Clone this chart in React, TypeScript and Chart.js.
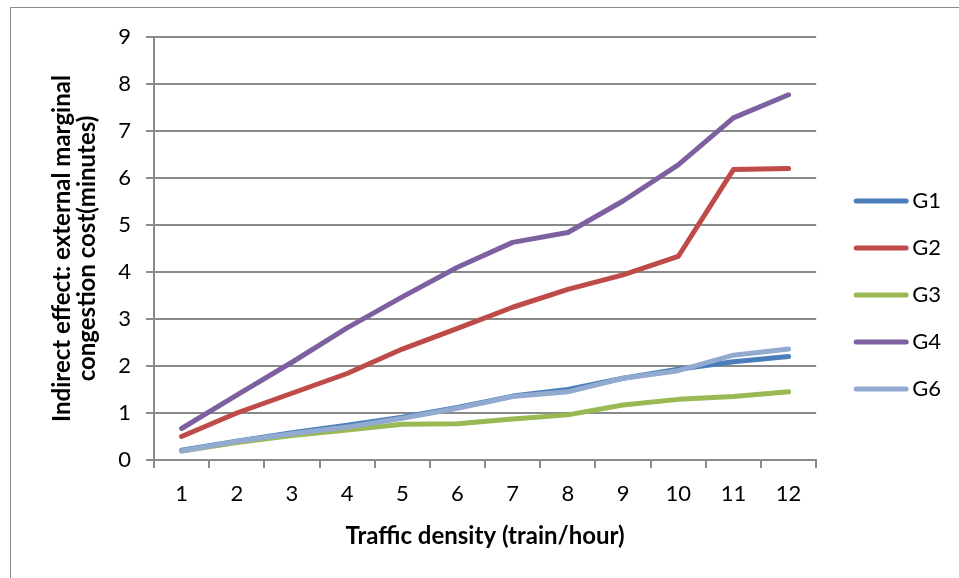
import React, { useEffect, useRef } from "react";
import { Chart, registerables } from "chart.js";

Chart.register(...registerables);

const categories = ["1", "2", "3", "4", "5", "6", "7", "8", "9", "10", "11", "12"];
const seriesNames = ["G1", "G2", "G3", "G4", "G6"];
const g1 = [0.21, 0.4, 0.58, 0.74, 0.91, 1.12, 1.36, 1.5, 1.74, 1.93, 2.09, 2.2];
const g2 = [0.5, 1.0, 1.42, 1.84, 2.36, 2.8, 3.25, 3.63, 3.94, 4.33, 6.18, 6.2];
const g3 = [0.19, 0.37, 0.52, 0.64, 0.76, 0.77, 0.87, 0.96, 1.17, 1.29, 1.35, 1.45];
const g4 = [0.67, 1.38, 2.08, 2.81, 3.47, 4.1, 4.63, 4.84, 5.51, 6.28, 7.28, 7.77];
const g6 = [0.19, 0.4, 0.56, 0.7, 0.89, 1.1, 1.35, 1.45, 1.74, 1.9, 2.23, 2.36];
const seriesValues = [g1, g2, g3, g4, g6];
const seriesColors = ["#4A7EBB", "#BE4B48", "#98B954", "#7D60A0", "#92A9D0"];
const yTitle = ["Indirect effect: external marginal", "congestion cost(minutes)"];
const xTitle = "Traffic density (train/hour)";

const FONT = "Lato, 'Open Sans', sans-serif";
const GRID = "#8a8a8a";

const frame = {
  id: "frame",
  afterLayout(chart: any) {
    const lg = chart.legend;
    if (lg) lg.left += 15;
  },
  beforeDraw(chart: any) {
    const ctx = chart.ctx;
    ctx.save();
    ctx.fillStyle = "#ffffff";
    ctx.fillRect(0, 0, chart.width, chart.height);
    ctx.strokeStyle = "#8a8a8a";
    ctx.lineWidth = 1;
    ctx.strokeRect(10.5, 7.5, 2000, 2000);
    ctx.restore();
  },
};

export default function App() {
  const ref = useRef<HTMLCanvasElement>(null);
  useEffect(() => {
    if (!ref.current) return;
    const n = seriesNames.length;
    const chart = new Chart(ref.current, {
      type: "line",
      data: {
        labels: categories,
        datasets: seriesNames.map((name, i) => ({
          label: name,
          data: seriesValues[i],
          borderColor: seriesColors[i],
          backgroundColor: seriesColors[i],
          borderWidth: 5,
          borderCapStyle: "round",
          borderJoinStyle: "round",
          pointRadius: 0,
          pointHoverRadius: 0,
          tension: 0,
          fill: false,
          order: n - i,
        })),
      },
      options: {
        responsive: false,
        animation: false,
        events: [],
        layout: { padding: { left: 0, top: 37, right: 18, bottom: 25 } },
        plugins: {
          tooltip: { enabled: false },
          legend: {
            position: "right",
            labels: {
              color: "#000",
              font: { family: FONT, size: 22 },
              usePointStyle: true,
              pointStyleWidth: 50,
              padding: 25,
              textAlign: "right",
              generateLabels: (c: any) =>
                Chart.defaults.plugins.legend.labels
                  .generateLabels(c)
                  .map((l: any) => ({ ...l, pointStyle: "line", lineCap: "round", textAlign: "right" }))
                  .sort((a: any, b: any) => a.datasetIndex - b.datasetIndex),
            },
          },
        },
        scales: {
          x: {
            type: "category",
            offset: true,
            afterFit: (s: any) => {
              s.height = 93;
            },
            grid: {
              offset: true,
              drawOnChartArea: false,
              drawTicks: true,
              tickLength: 8,
              color: GRID,
              lineWidth: 2,
            },
            border: { display: true, color: GRID, width: 2 },
            ticks: {
              color: "#000",
              font: { family: FONT, size: 22 },
              padding: 13,
              maxRotation: 0,
              autoSkip: false,
            },
            title: {
              display: true,
              text: xTitle,
              color: "#000",
              font: { family: FONT, size: 24, weight: "bold", lineHeight: "24px" },
              padding: { top: 0, bottom: 5 },
            },
          },
          y: {
            min: 0,
            max: 9,
            afterFit: (s: any) => {
              s.width = 154;
            },
            grid: {
              color: GRID,
              lineWidth: 2,
              drawTicks: true,
              tickLength: 8,
            },
            border: { display: true, color: GRID, width: 2 },
            ticks: {
              stepSize: 1,
              color: "#000",
              font: { family: FONT, size: 22 },
              padding: 15,
            },
            title: {
              display: true,
              text: yTitle,
              color: "#000",
              font: { family: FONT, size: 24, weight: "bold", lineHeight: "25px" },
              padding: { top: 50, bottom: 0 },
            },
          },
        },
      },
      plugins: [frame],
    });
    return () => chart.destroy();
  }, []);
  return (
    <div style={{ position: "absolute", left: 0, top: 0, width: 959, height: 578 }}>
      <canvas ref={ref} width={959} height={578} style={{ display: "block" }} />
    </div>
  );
}
